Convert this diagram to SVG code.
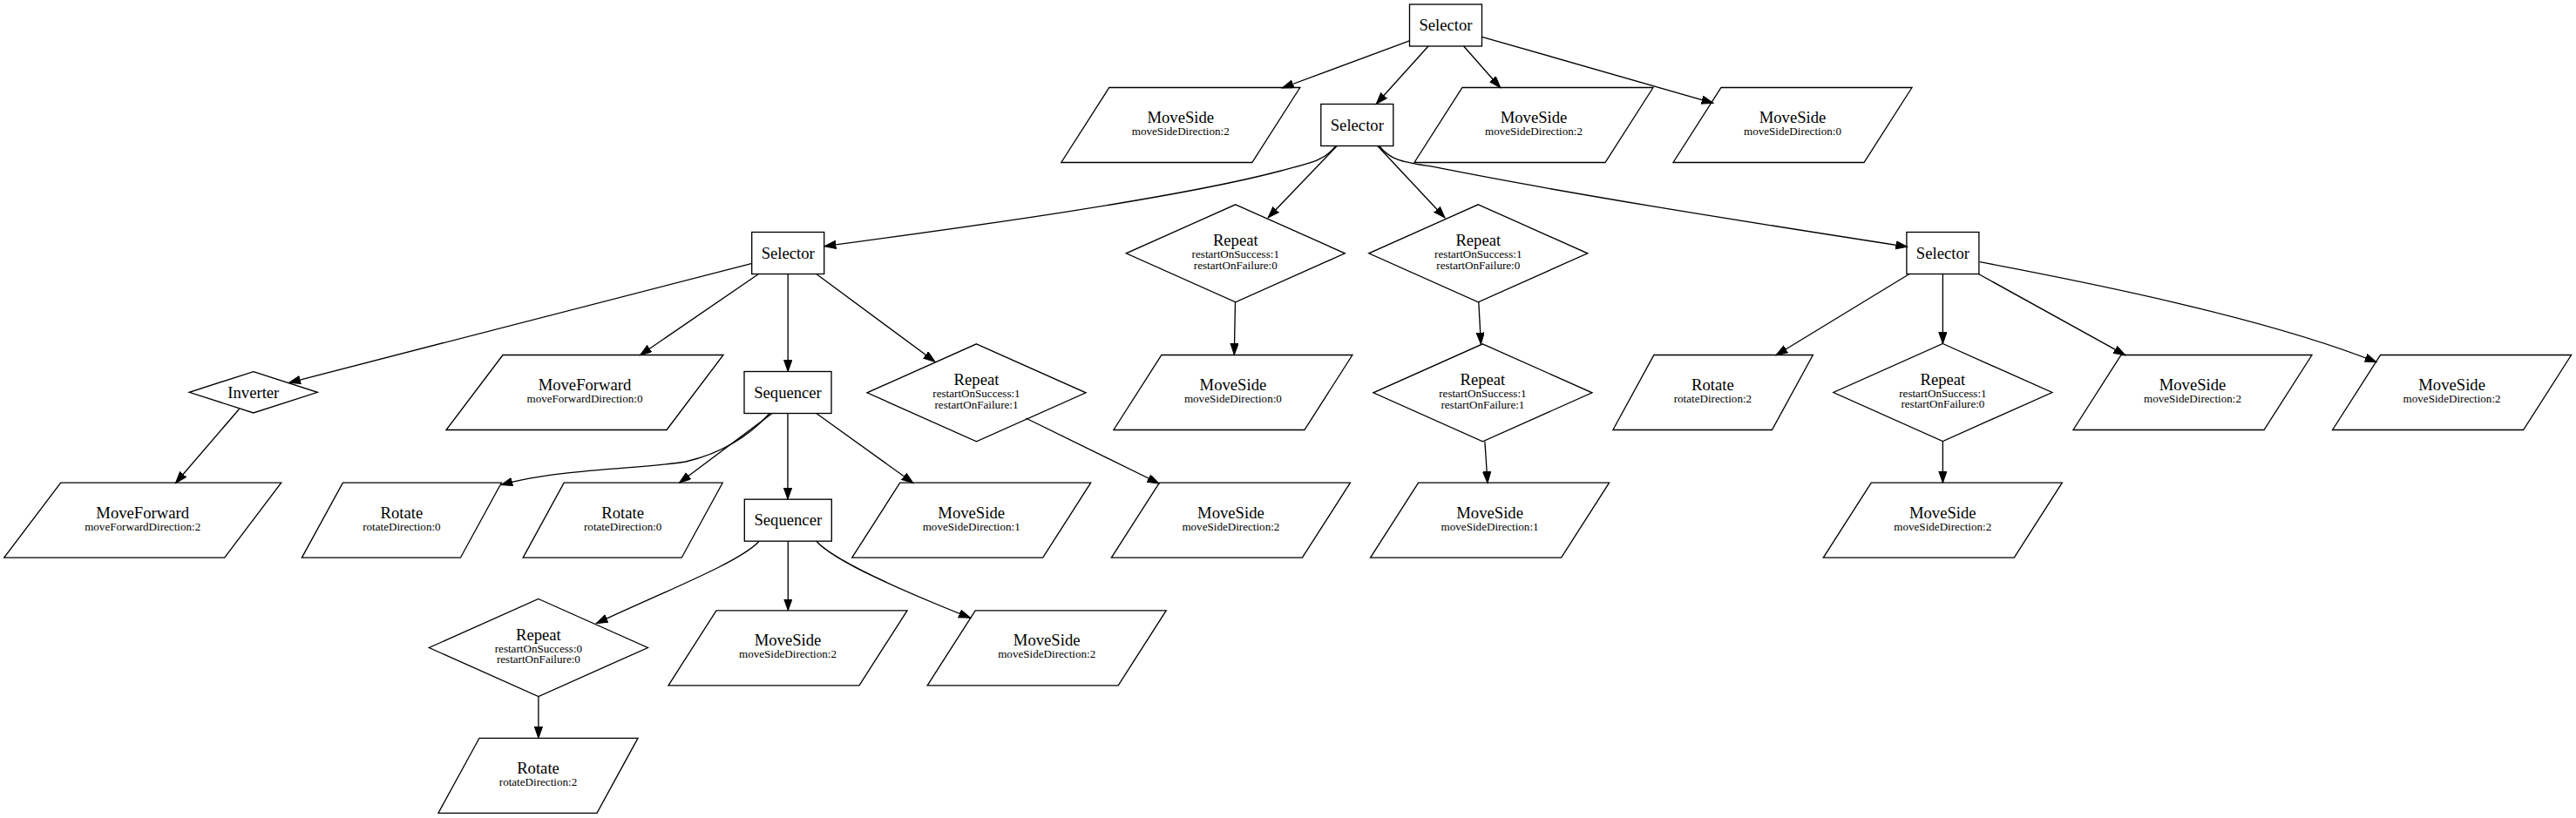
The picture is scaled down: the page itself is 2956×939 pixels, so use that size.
<svg xmlns="http://www.w3.org/2000/svg" width="2956" height="939" viewBox="0 0 2956 939">
<style>
.n{fill:none;stroke:#000;stroke-width:1.33}
.e{fill:none;stroke:#000;stroke-width:1.33;marker-end:url(#arr)}
.t{font-family:"Liberation Serif","Times New Roman",serif;font-size:18.67px;text-anchor:middle;fill:#000}
.s{font-family:"Liberation Serif","Times New Roman",serif;font-size:13.1px;text-anchor:middle;fill:#000}
</style>
<defs>
<marker id="arr" markerUnits="userSpaceOnUse" markerWidth="16" markerHeight="12" refX="13.3" refY="4.67" orient="auto">
<path d="M0,0 L13.3,4.67 L0,9.33 Z" fill="#000" stroke="#000" stroke-width="1"/>
</marker>
</defs>
<rect width="2956" height="939" fill="#fff"/>
<g id="edges">
<path class="e" d="M1618,46.7 L1471.3,101"/>
<path class="e" d="M1639,53 L1579.3,119.3"/>
<path class="e" d="M1679.6,53 L1721.7,100.7"/>
<path class="e" d="M1700.5,42.3 L1965.9,118.3"/>
<path class="e" d="M1533,167.5 C1519,185 1503,187 1470,196 C1350,228 1100,262 946,282.7"/>
<path class="e" d="M1534.2,167.5 L1455.1,250"/>
<path class="e" d="M1580.8,167.5 L1658,250"/>
<path class="e" d="M1582.7,167.5 C1596,185 1612,186 1646,191.7 C1796,221.7 1988.6,252.3 2188.6,283.3"/>
<path class="e" d="M1417.5,346.7 L1416.3,407.3"/>
<path class="e" d="M1696.8,346.7 L1699.4,395"/>
<path class="e" d="M1703.9,506.7 L1707,554.5"/>
<path class="e" d="M2191,314.5 L2038,407.7"/>
<path class="e" d="M2229.4,314.5 L2229.4,394.5"/>
<path class="e" d="M2270.4,314.5 L2438.8,407.7"/>
<path class="e" d="M2271.8,300.7 C2400,325 2600,365 2727,415.7"/>
<path class="e" d="M2229.4,506.5 L2229.4,554.2"/>
<path class="e" d="M863,302.3 L331.6,439.3"/>
<path class="e" d="M870.5,314.5 L734.5,407.7"/>
<path class="e" d="M904.2,314.5 L904.2,426.5"/>
<path class="e" d="M936.8,314.5 L1073,415.3"/>
<path class="e" d="M274.5,469.5 L201.5,554.5"/>
<path class="e" d="M1177.2,480 L1330.1,555"/>
<path class="e" d="M883.3,474.5 C860,500 830,520 786.7,530 C740,538 640,538 575,556.7"/>
<path class="e" d="M886,474.5 L779.5,554.2"/>
<path class="e" d="M904,474.5 L904,573.2"/>
<path class="e" d="M936.8,474.5 L1048,554.5"/>
<path class="e" d="M871.1,621.2 C850,645 760,680 684.2,715.7"/>
<path class="e" d="M904.3,621.2 L904.3,700.8"/>
<path class="e" d="M936.8,621.2 C958,645 1040,680 1113.5,709.3"/>
<path class="e" d="M617.9,799.3 L617.9,847.3"/>
</g>
<g id="n0"><rect class="n" x="1617.5" y="5" width="83" height="48"/><text class="t" x="1659" y="35">Selector</text></g>
<g id="n1"><polygon class="n" points="1272.8,100.5 1491.8,100.5 1436.8,186.5 1217.8,186.5"/><text class="t" x="1354.8" y="141">MoveSide</text><text class="s" x="1354.8" y="155">moveSideDirection:2</text></g>
<g id="n2"><rect class="n" x="1515.8" y="119.5" width="83" height="48"/><text class="t" x="1557.3" y="149.5">Selector</text></g>
<g id="n3"><polygon class="n" points="1678,100.5 1897,100.5 1842,186.5 1623,186.5"/><text class="t" x="1760" y="141">MoveSide</text><text class="s" x="1760" y="155">moveSideDirection:2</text></g>
<g id="n4"><polygon class="n" points="1975,100.5 2194,100.5 2139,186.5 1920,186.5"/><text class="t" x="2057" y="141">MoveSide</text><text class="s" x="2057" y="155">moveSideDirection:0</text></g>
<g id="n5"><rect class="n" x="862.7" y="266.5" width="83" height="48"/><text class="t" x="904.2" y="296.5">Selector</text></g>
<g id="n6"><polygon class="n" points="1417.8,234.8 1543.3,290.8 1417.8,346.8 1292.3,290.8"/><text class="t" x="1417.8" y="282">Repeat</text><text class="s" x="1417.8" y="295.9">restartOnSuccess:1</text><text class="s" x="1417.8" y="308.5">restartOnFailure:0</text></g>
<g id="n7"><polygon class="n" points="1696.3,234.8 1821.8,290.8 1696.3,346.8 1570.8,290.8"/><text class="t" x="1696.3" y="282">Repeat</text><text class="s" x="1696.3" y="295.9">restartOnSuccess:1</text><text class="s" x="1696.3" y="308.5">restartOnFailure:0</text></g>
<g id="n8"><rect class="n" x="2187.9" y="266.5" width="83" height="48"/><text class="t" x="2229.4" y="296.5">Selector</text></g>
<g id="n9"><polygon class="n" points="290.8,426.6 364.3,450.3 290.8,474 217.3,450.3"/><text class="t" x="290.8" y="456.5">Inverter</text></g>
<g id="n10"><polygon class="n" points="577,407.5 830,407.5 765,493.5 512,493.5"/><text class="t" x="671" y="448">MoveForward</text><text class="s" x="671" y="462">moveForwardDirection:0</text></g>
<g id="n11"><rect class="n" x="854" y="426.5" width="100" height="48"/><text class="t" x="904" y="456.5">Sequencer</text></g>
<g id="n12"><polygon class="n" points="1120.5,394.8 1246,450.8 1120.5,506.8 995,450.8"/><text class="t" x="1120.5" y="442">Repeat</text><text class="s" x="1120.5" y="455.9">restartOnSuccess:1</text><text class="s" x="1120.5" y="468.5">restartOnFailure:1</text></g>
<g id="n13"><polygon class="n" points="1332.9,407.5 1551.9,407.5 1496.9,493.5 1277.9,493.5"/><text class="t" x="1414.9" y="448">MoveSide</text><text class="s" x="1414.9" y="462">moveSideDirection:0</text></g>
<g id="n14"><polygon class="n" points="1701.4,394.8 1826.9,450.8 1701.4,506.8 1575.9,450.8"/><text class="t" x="1701.4" y="442">Repeat</text><text class="s" x="1701.4" y="455.9">restartOnSuccess:1</text><text class="s" x="1701.4" y="468.5">restartOnFailure:1</text></g>
<g id="n15"><polygon class="n" points="1897.9,407.5 2080.4,407.5 2033.4,493.5 1850.9,493.5"/><text class="t" x="1965.4" y="448">Rotate</text><text class="s" x="1965.4" y="462">rotateDirection:2</text></g>
<g id="n16"><polygon class="n" points="2229.4,394.5 2354.9,450.5 2229.4,506.5 2103.9,450.5"/><text class="t" x="2229.4" y="441.7">Repeat</text><text class="s" x="2229.4" y="455.6">restartOnSuccess:1</text><text class="s" x="2229.4" y="468.2">restartOnFailure:0</text></g>
<g id="n17"><polygon class="n" points="2434,407.5 2653,407.5 2598,493.5 2379,493.5"/><text class="t" x="2516" y="448">MoveSide</text><text class="s" x="2516" y="462">moveSideDirection:2</text></g>
<g id="n18"><polygon class="n" points="2731.6,407.5 2950.6,407.5 2895.6,493.5 2676.6,493.5"/><text class="t" x="2813.6" y="448">MoveSide</text><text class="s" x="2813.6" y="462">moveSideDirection:2</text></g>
<g id="n19"><polygon class="n" points="69.7,554.2 322.7,554.2 257.7,640.2 4.7,640.2"/><text class="t" x="163.7" y="594.7">MoveForward</text><text class="s" x="163.7" y="608.7">moveForwardDirection:2</text></g>
<g id="n20"><polygon class="n" points="393.4,554.2 575.4,554.2 528.4,640.2 346.4,640.2"/><text class="t" x="460.9" y="594.7">Rotate</text><text class="s" x="460.9" y="608.7">rotateDirection:0</text></g>
<g id="n21"><polygon class="n" points="647.2,554.2 829.2,554.2 782.2,640.2 600.2,640.2"/><text class="t" x="714.7" y="594.7">Rotate</text><text class="s" x="714.7" y="608.7">rotateDirection:0</text></g>
<g id="n22"><rect class="n" x="854.3" y="573.2" width="100" height="48"/><text class="t" x="904.3" y="603.2">Sequencer</text></g>
<g id="n23"><polygon class="n" points="1032.7,554.2 1251.7,554.2 1196.7,640.2 977.7,640.2"/><text class="t" x="1114.7" y="594.7">MoveSide</text><text class="s" x="1114.7" y="608.7">moveSideDirection:1</text></g>
<g id="n24"><polygon class="n" points="1330.4,554.2 1549.4,554.2 1494.4,640.2 1275.4,640.2"/><text class="t" x="1412.4" y="594.7">MoveSide</text><text class="s" x="1412.4" y="608.7">moveSideDirection:2</text></g>
<g id="n25"><polygon class="n" points="1627.6,554.2 1846.6,554.2 1791.6,640.2 1572.6,640.2"/><text class="t" x="1709.6" y="594.7">MoveSide</text><text class="s" x="1709.6" y="608.7">moveSideDirection:1</text></g>
<g id="n26"><polygon class="n" points="2147.3,554.2 2366.3,554.2 2311.3,640.2 2092.3,640.2"/><text class="t" x="2229.3" y="594.7">MoveSide</text><text class="s" x="2229.3" y="608.7">moveSideDirection:2</text></g>
<g id="n27"><polygon class="n" points="617.9,687.5 743.4,743.5 617.9,799.5 492.4,743.5"/><text class="t" x="617.9" y="734.7">Repeat</text><text class="s" x="617.9" y="748.6">restartOnSuccess:0</text><text class="s" x="617.9" y="761.2">restartOnFailure:0</text></g>
<g id="n28"><polygon class="n" points="822,700.8 1041,700.8 986,786.8 767,786.8"/><text class="t" x="904" y="741.3">MoveSide</text><text class="s" x="904" y="755.3">moveSideDirection:2</text></g>
<g id="n29"><polygon class="n" points="1119.2,700.8 1338.2,700.8 1283.2,786.8 1064.2,786.8"/><text class="t" x="1201.2" y="741.3">MoveSide</text><text class="s" x="1201.2" y="755.3">moveSideDirection:2</text></g>
<g id="n30"><polygon class="n" points="550,847.3 732,847.3 685,933.3 503,933.3"/><text class="t" x="617.5" y="887.8">Rotate</text><text class="s" x="617.5" y="901.8">rotateDirection:2</text></g>
</svg>
